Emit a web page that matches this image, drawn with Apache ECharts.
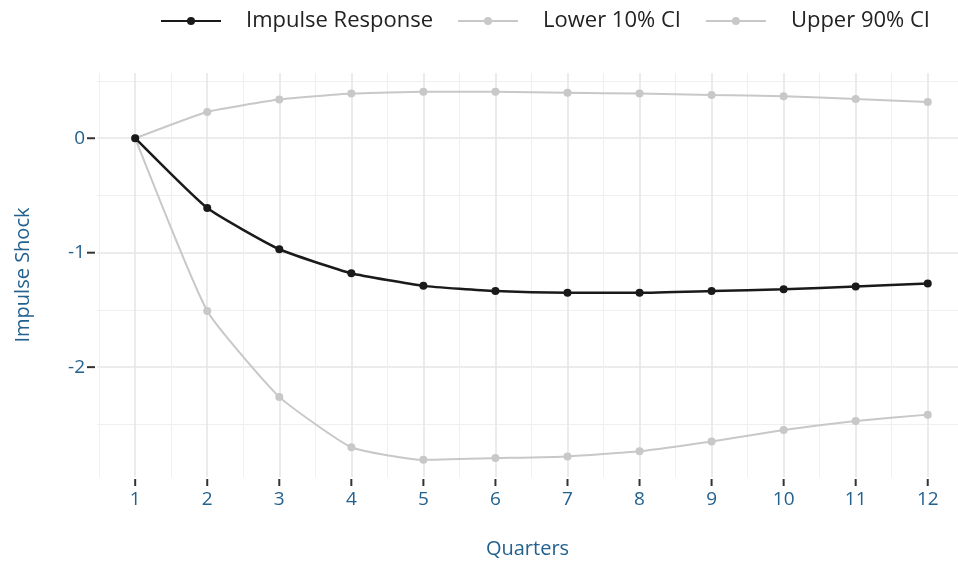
<!DOCTYPE html>
<html><head><meta charset="utf-8">
<script src="https://cdn.jsdelivr.net/npm/echarts@6/dist/echarts.min.js"></script>
<style>html,body{margin:0;padding:0;background:#fff}#c{width:958px;height:565px}</style>
</head><body><div id="c"></div>
<script>
const quarters = [1,2,3,4,5,6,7,8,9,10,11,12];
const impulse = [0,-0.61,-0.97,-1.18,-1.29,-1.335,-1.35,-1.35,-1.335,-1.32,-1.295,-1.27];
const lower10 = [0,-1.51,-2.26,-2.70,-2.81,-2.795,-2.78,-2.735,-2.65,-2.55,-2.47,-2.415];
const upper90 = [0,0.23,0.338,0.39,0.406,0.406,0.398,0.39,0.378,0.367,0.343,0.317];
const xMinor = [0.5,1.5,2.5,3.5,4.5,5.5,6.5,7.5,8.5,9.5,10.5,11.5,12.5];
const yTicks = [-2,-1,0];
const yMinor = [-2.5,-1.5,-0.5,0.5];

const pair = v => quarters.map((q,i)=>[q,v[i]]);
const blue = '#23618f';
const font = 'Open Sans';
const X0 = 0.47, X1 = 12.42, Y0 = -2.96, Y1 = 0.57;
const chart = echarts.init(document.getElementById('c'));
const major = {show:true, lineStyle:{color:'#e6e6e6', width:1.6}};
const minor = {show:true, lineStyle:{color:'#efefef', width:1.1}};
const off = {show:false, onZero:false};
function tickSeries(data, vertical) {
  return {type:'custom', data:data, clip:false, silent:true, z:5,
    renderItem:function(params, api){
      const p = api.coord([api.value(0), api.value(1)]);
      const shape = vertical
        ? {x1:p[0], y1:p[1]+2, x2:p[0], y2:p[1]+9}
        : {x1:p[0]-10, y1:p[1], x2:p[0]-2, y2:p[1]};
      return {type:'line', shape:shape, style:{stroke:'#333', lineWidth:2}};
    }};
}
chart.setOption({
  animation:false,
  textStyle:{fontFamily:font},
  legend:{left:155, top:5, itemWidth:60, itemHeight:10, itemGap:24,
    textStyle:{fontSize:22, color:'#222', fontFamily:font, padding:[0,0,0,20]},
    data:['Impulse Response','Lower 10% CI','Upper 90% CI']},
  grid:{left:97, right:0, top:73, bottom:88},
  xAxis:[
    {type:'value', min:X0, max:X1, position:'bottom', name:'Quarters', nameLocation:'middle', nameGap:62,
     nameTextStyle:{color:blue, fontSize:20, fontFamily:font},
     axisLine:off,
     axisTick:{show:false, customValues:quarters},
     axisLabel:{customValues:quarters, color:blue, fontSize:19, margin:13, fontFamily:font},
     splitLine:major},
    {type:'value', min:X0, max:X1, position:'bottom',
     axisLine:off, axisTick:{show:false, customValues:xMinor},
     axisLabel:{show:false}, splitLine:minor}
  ],
  yAxis:[
    {type:'value', min:Y0, max:Y1, position:'left', name:'Impulse Shock', nameLocation:'middle', nameGap:64,
     nameTextStyle:{color:blue, fontSize:20, fontFamily:font},
     axisLine:off,
     axisTick:{show:false, customValues:yTicks},
     axisLabel:{customValues:yTicks, color:blue, fontSize:19, margin:12, fontFamily:font},
     splitLine:major},
    {type:'value', min:Y0, max:Y1, position:'left',
     axisLine:off, axisTick:{show:false, customValues:yMinor},
     axisLabel:{show:false}, splitLine:minor}
  ],
  series:[
    {name:'Lower 10% CI', type:'line', data:pair(lower10), smooth:0.15, symbol:'circle', symbolSize:8,
     itemStyle:{color:'#c8c8c8'}, lineStyle:{color:'#c8c8c8', width:2}, z:2},
    {name:'Upper 90% CI', type:'line', data:pair(upper90), smooth:0.15, symbol:'circle', symbolSize:8,
     itemStyle:{color:'#c8c8c8'}, lineStyle:{color:'#c8c8c8', width:2}, z:2},
    {name:'Impulse Response', type:'line', data:pair(impulse), smooth:0.15, symbol:'circle', symbolSize:8,
     itemStyle:{color:'#1a1a1a'}, lineStyle:{color:'#1a1a1a', width:2.5}, z:3},
    tickSeries(quarters.map(q=>[q, Y0]), true),
    tickSeries(yTicks.map(v=>[X0, v]), false)
  ]
});
</script></body></html>
